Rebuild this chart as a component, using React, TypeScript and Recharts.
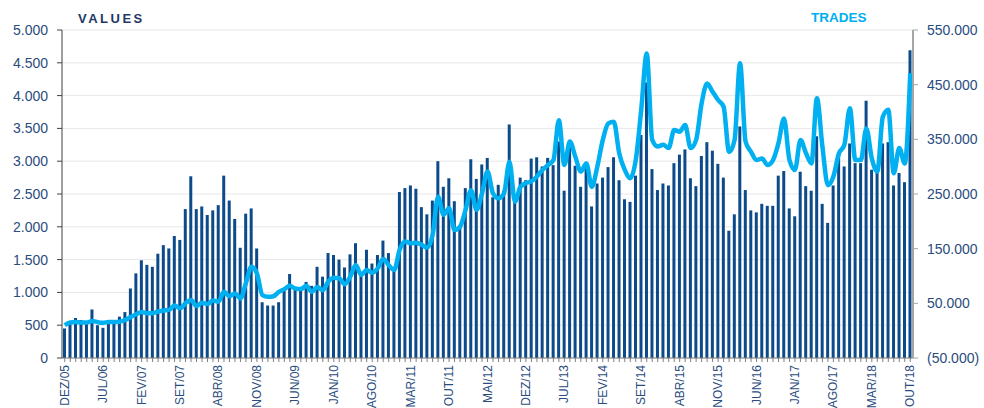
import { ComposedChart, Bar, Line, XAxis, YAxis, CartesianGrid } from 'recharts';

const MONTHS = ['JAN', 'FEV', 'MAR', 'ABR', 'MAI', 'JUN', 'JUL', 'AGO', 'SET', 'OUT', 'NOV', 'DEZ'];

// monthly values (left axis), DEZ/05 .. OUT/18
const values = [
  450, 560, 610, 580, 530, 740, 500, 460, 540, 570, 630, 700,
  1060, 1290, 1490, 1420, 1390, 1590, 1720, 1670, 1860, 1800, 2270, 2770,
  2270, 2310, 2180, 2250, 2330, 2780, 2400, 2120, 1680, 2200, 2280, 1670,
  850, 800, 800, 850, 1050, 1280, 1050, 1050, 1160, 1100, 1390, 1240,
  1600, 1570, 1500, 1380, 1580, 1750, 1300, 1650, 1440, 1570, 1790, 1600,
  1350, 2530, 2590, 2630, 2580, 2300, 2190, 2400, 3000, 2610, 2740, 2390,
  2000, 2590, 3030, 2730, 2950, 3050, 2450, 2640, 2550, 3560, 2380, 2750,
  2710, 3040, 3060, 2920, 3050, 2940, 3300, 2550, 3250, 2930, 2610, 2920,
  2310, 2660, 2750, 2910, 3060, 2710, 2420, 2380, 2780, 3400, 4200, 2880,
  2560, 2660, 2630, 2970, 3100, 3180, 2740, 2620, 3080, 3290, 3160, 2960,
  2750, 1940, 2190, 3530, 2560, 2250, 2220, 2350, 2320, 2320, 2780, 2850,
  2280, 2160, 2840, 2620, 2550, 3380, 2350, 2060, 2630, 3090, 2920, 3270,
  2970, 2970, 3920, 2870, 2820, 3270, 3290, 2630, 2820, 2680, 4690,
];

// monthly trades (right axis)
const trades = [
  10000, 15000, 16000, 15000, 15000, 17500, 15500, 14500, 16000, 16000, 16500, 19500,
  25000, 30000, 34000, 32000, 32000, 35000, 37000, 38000, 46000, 41000, 50000, 56000,
  45000, 51000, 49000, 55000, 53000, 71000, 63000, 68000, 59000, 87000, 117000, 105000,
  65000, 62000, 63000, 71000, 76000, 82000, 77000, 76000, 82000, 71000, 80000, 74000,
  90000, 97000, 96000, 85000, 99000, 120000, 102000, 111000, 106000, 114000, 131000, 120000,
  111000, 148000, 163000, 160000, 161000, 157000, 152000, 175000, 245000, 212000, 224000, 184000,
  190000, 221000, 257000, 221000, 251000, 291000, 251000, 242000, 251000, 309000, 236000, 263000,
  270000, 273000, 282000, 294000, 303000, 312000, 385000, 303000, 346000, 318000, 291000, 306000,
  263000, 300000, 349000, 379000, 382000, 324000, 294000, 279000, 312000, 404000, 507000, 349000,
  337000, 340000, 334000, 367000, 364000, 376000, 334000, 349000, 416000, 452000, 437000, 422000,
  410000, 327000, 349000, 489000, 346000, 327000, 312000, 315000, 303000, 312000, 343000, 388000,
  312000, 294000, 349000, 325000, 306000, 425000, 337000, 266000, 282000, 324000, 340000, 407000,
  312000, 312000, 370000, 315000, 291000, 391000, 404000, 288000, 334000, 306000, 471000,
];

const xLabels = [
  'DEZ/05', 'JUL/06', 'FEV/07', 'SET/07', 'ABR/08', 'NOV/08', 'JUN/09', 'JAN/10',
  'AGO/10', 'MAR/11', 'OUT/11', 'MAI/12', 'DEZ/12', 'JUL/13', 'FEV/14', 'SET/14',
  'ABR/15', 'NOV/15', 'JUN/16', 'JAN/17', 'AGO/17', 'MAR/18', 'OUT/18',
];

const leftTicks = [0, 500, 1000, 1500, 2000, 2500, 3000, 3500, 4000, 4500, 5000];
const rightTicks = [-50000, 50000, 150000, 250000, 350000, 450000, 550000];

const categories = values.map((_, i) => {
  const m = (11 + i) % 12;
  const y = 5 + Math.floor((11 + i) / 12);
  return `${MONTHS[m]}/${String(y).padStart(2, '0')}`;
});

const data = categories.map((month, i) => ({ month, values: values[i], trades: trades[i] }));

const FONT = 'Liberation Sans, Arial, sans-serif';
const LABEL = '#2b4c7e';

const fmt = (v: number) => {
  const s = Math.abs(v).toString().replace(/\B(?=(\d{3})+(?!\d))/g, '.');
  return v < 0 ? `(${s})` : s;
};

function XTick(props: any) {
  const { x, y, payload } = props;
  if (!xLabels.includes(payload.value)) return <g />;
  return (
    <text
      x={x}
      y={y}
      transform={`rotate(-90, ${x}, ${y})`}
      textAnchor="end"
      dominantBaseline="central"
      fontSize={12}
      fontFamily={FONT}
      fill={LABEL}
    >
      {payload.value}
    </text>
  );
}

export default function App() {
  return (
    <div style={{ position: 'absolute', left: 0, top: 0, width: 984, height: 408, background: '#fff' }}>
      <div
        style={{
          position: 'absolute', left: 78, top: 11, fontFamily: FONT, fontWeight: 'bold',
          fontSize: 13, letterSpacing: 2.5, color: '#1f3864', zIndex: 2,
        }}
      >
        VALUES
      </div>
      <div
        style={{
          position: 'absolute', left: 811, top: 10, fontFamily: FONT, fontWeight: 'bold',
          fontSize: 13.5, color: '#00b0f0', zIndex: 2,
        }}
      >
        TRADES
      </div>
      <ComposedChart width={984} height={408} data={data} margin={{ top: 30, right: 0, bottom: 0, left: 0 }}>
        <CartesianGrid yAxisId="left" vertical={false} stroke="#e8e8e8" />
        <XAxis
          dataKey="month"
          interval={0}
          height={50}
          tickSize={4}
          tickMargin={3}
          tick={<XTick />}
          axisLine={{ stroke: '#808080' }}
          tickLine={{ stroke: '#808080' }}
        />
        <YAxis
          yAxisId="left"
          orientation="left"
          width={62}
          domain={[0, 5000]}
          ticks={leftTicks}
          tickFormatter={fmt}
          tickSize={5}
          tickMargin={9}
          axisLine={{ stroke: '#404040' }}
          tickLine={{ stroke: '#404040' }}
          tick={{ fontSize: 14, fill: LABEL, fontFamily: FONT }}
        />
        <YAxis
          yAxisId="right"
          orientation="right"
          width={71}
          domain={[-50000, 550000]}
          ticks={rightTicks}
          tickFormatter={fmt}
          tickSize={5}
          tickMargin={9}
          axisLine={{ stroke: '#a6a6a6', strokeWidth: 2 }}
          tickLine={{ stroke: '#a6a6a6' }}
          tick={{ fontSize: 14, fill: LABEL, fontFamily: FONT, textAnchor: 'start' }}
        />
        <Bar yAxisId="left" dataKey="values" fill="#0c4a8a" barSize={3} isAnimationActive={false} />
        <Line
          yAxisId="right"
          dataKey="trades"
          type="monotone"
          stroke="#00b0f0"
          strokeWidth={4.5}
          dot={false}
          isAnimationActive={false}
        />
      </ComposedChart>
    </div>
  );
}
